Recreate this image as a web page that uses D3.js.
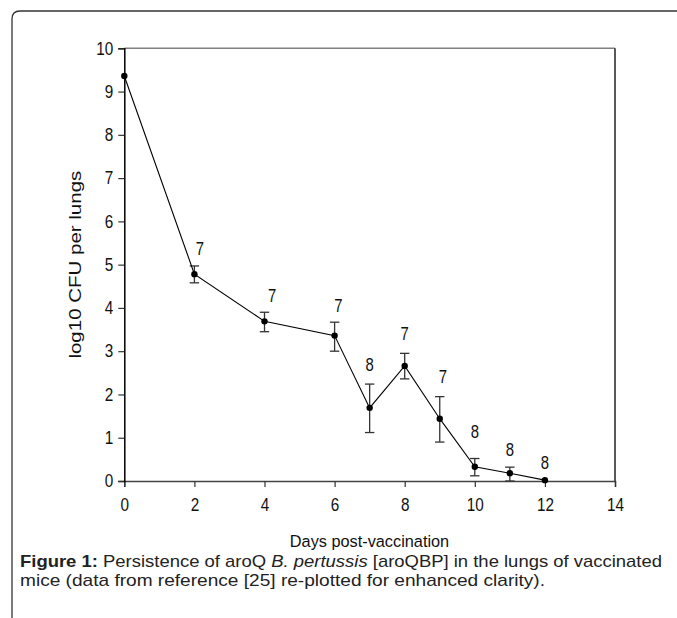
<!DOCTYPE html>
<html><head><meta charset="utf-8">
<script src="https://cdn.jsdelivr.net/npm/d3@7"></script>
<style>
html,body{margin:0;padding:0;background:#fff;}
svg{display:block;font-family:"Liberation Sans",Arial,sans-serif;}
</style></head>
<body>
<svg id="chart" width="677" height="618"></svg>
<script>
// ---- data ----
const days    = [0, 2, 4, 6, 7, 8, 9, 10, 11, 12];
const meanCFU = [9.36, 4.78, 3.69, 3.36, 1.69, 2.66, 1.44, 0.33, 0.18, 0.02];
const errHigh = [null, 4.97, 3.90, 3.67, 2.24, 2.95, 1.95, 0.52, 0.32, null];
const errLow  = [null, 4.58, 3.45, 3.00, 1.12, 2.36, 0.90, 0.12, 0.00, null];
// number of mice per time point, with annotation anchor (day, value)
const nMice   = ["7", "7", "7", "8", "7", "7", "8", "8", "8"];
const nDay    = [2.16, 4.22, 6.11, 7.0, 8.0, 9.09, 10.0, 11.0, 12.0];
const nValue  = [5.38, 4.29, 4.05, 2.69, 3.41, 2.40, 1.15, 0.73, 0.42];
const xTicks  = [0, 2, 4, 6, 8, 10, 12, 14];
const yTicks  = [0, 1, 2, 3, 4, 5, 6, 7, 8, 9, 10];
const xTitle  = "Days post-vaccination";
const yTitle  = "log10 CFU per lungs";
const caption1 = [
  {t: "Figure 1:", w: "bold", s: "normal"},
  {t: " Persistence of aroQ ", w: "normal", s: "normal"},
  {t: "B. pertussis", w: "normal", s: "italic"},
  {t: " [aroQBP] in the lungs of vaccinated", w: "normal", s: "normal"}
];
const caption2 = "mice (data from reference [25] re-plotted for enhanced clarity).";

const svg = d3.select("#chart");

// frame with rounded top-left corner
svg.append("path")
  .attr("d", "M12,640 L12,19 Q12,11 20,11 L690,11")
  .attr("fill", "none").attr("stroke", "#333").attr("stroke-width", 1.3);

const x = d3.scaleLinear().domain([0, 14]).range([124.3, 615]);
const y = d3.scaleLinear().domain([0, 10]).range([481, 48.3]);

// plot frame top/right
svg.append("line").attr("x1", x(0)).attr("x2", x(14)).attr("y1", y(10)).attr("y2", y(10))
  .attr("stroke", "#808080").attr("stroke-width", 1.5);
svg.append("line").attr("x1", x(14)).attr("x2", x(14)).attr("y1", y(10)).attr("y2", y(0))
  .attr("stroke", "#222").attr("stroke-width", 1.5);

function condense(sel, f) {
  sel.each(function () {
    const w = this.getComputedTextLength();
    d3.select(this).attr("textLength", w * f).attr("lengthAdjust", "spacingAndGlyphs");
  });
}

const gx = svg.append("g").attr("transform", `translate(0,${y(0)})`)
  .call(d3.axisBottom(x).tickValues(xTicks).tickFormat(d3.format("d")).tickSize(6).tickPadding(11));
gx.select(".domain").attr("stroke", "#444").attr("stroke-width", 1.5);
gx.selectAll(".tick line").attr("stroke", "#333").attr("stroke-width", 1.2);
gx.selectAll(".tick text").attr("font-size", 18).attr("fill", "#111")
  .attr("font-family", '"Liberation Sans",Arial,sans-serif');
condense(gx.selectAll(".tick text"), 0.85);

const gy = svg.append("g").attr("transform", `translate(${x(0)},0)`)
  .call(d3.axisLeft(y).tickValues(yTicks).tickFormat(d3.format("d")).tickSize(6).tickPadding(5));
gy.select(".domain").attr("stroke", "#000").attr("stroke-width", 1.5);
gy.selectAll(".tick line").attr("stroke", "#333").attr("stroke-width", 1.2);
gy.selectAll(".tick text").attr("font-size", 18).attr("fill", "#111")
  .attr("font-family", '"Liberation Sans",Arial,sans-serif');
condense(gy.selectAll(".tick text"), 0.85);

// data
const pts = days.map((d, i) => ({d, m: meanCFU[i], hi: errHigh[i], lo: errLow[i]}));

// error bars
const eb = svg.append("g").attr("stroke", "#333").attr("stroke-width", 1.3);
pts.filter(p => p.hi != null).forEach(p => {
  eb.append("line").attr("x1", x(p.d)).attr("x2", x(p.d)).attr("y1", y(p.hi)).attr("y2", y(p.lo));
  eb.append("line").attr("x1", x(p.d) - 4.7).attr("x2", x(p.d) + 4.7).attr("y1", y(p.hi)).attr("y2", y(p.hi));
  eb.append("line").attr("x1", x(p.d) - 4.7).attr("x2", x(p.d) + 4.7).attr("y1", y(p.lo)).attr("y2", y(p.lo));
});

svg.append("path").datum(pts)
  .attr("d", d3.line().x(p => x(p.d)).y(p => y(p.m)))
  .attr("fill", "none").attr("stroke", "#000").attr("stroke-width", 1.1);

svg.append("g").selectAll("circle").data(pts).join("circle")
  .attr("cx", p => x(p.d)).attr("cy", p => y(p.m)).attr("r", 3.2).attr("fill", "#000");

// n labels
const nl = svg.append("g").selectAll("text").data(nMice).join("text")
  .attr("x", (t, i) => x(nDay[i])).attr("y", (t, i) => y(nValue[i]))
  .attr("dy", "0.36em").attr("text-anchor", "middle")
  .attr("font-size", 17.5).attr("fill", "#111").text(t => t);
condense(nl, 0.85);

// axis titles
svg.append("text").attr("x", 369.5).attr("y", 546.5).attr("text-anchor", "middle")
  .attr("font-size", 16.3).attr("fill", "#111").text(xTitle);
svg.append("text")
  .attr("transform", `translate(80.8,${(y(0) + y(10)) / 2}) rotate(-90) scale(1,0.8)`)
  .attr("text-anchor", "middle").attr("font-size", 20.5).attr("fill", "#111").text(yTitle);

// caption: one text per line, glyphs stretched to the measured line width
function captionLine(parts, x0, baseline, targetW) {
  const t = svg.append("text").attr("x", x0).attr("y", baseline)
    .attr("font-size", 16.1).attr("fill", "#222")
    .attr("textLength", targetW).attr("lengthAdjust", "spacingAndGlyphs");
  parts.forEach(p => t.append("tspan").attr("font-weight", p.w).attr("font-style", p.s).text(p.t));
}
captionLine(caption1, 20, 566.8, 642);
captionLine([{t: caption2, w: "normal", s: "normal"}], 20, 585.6, 525);
</script>
</body></html>
